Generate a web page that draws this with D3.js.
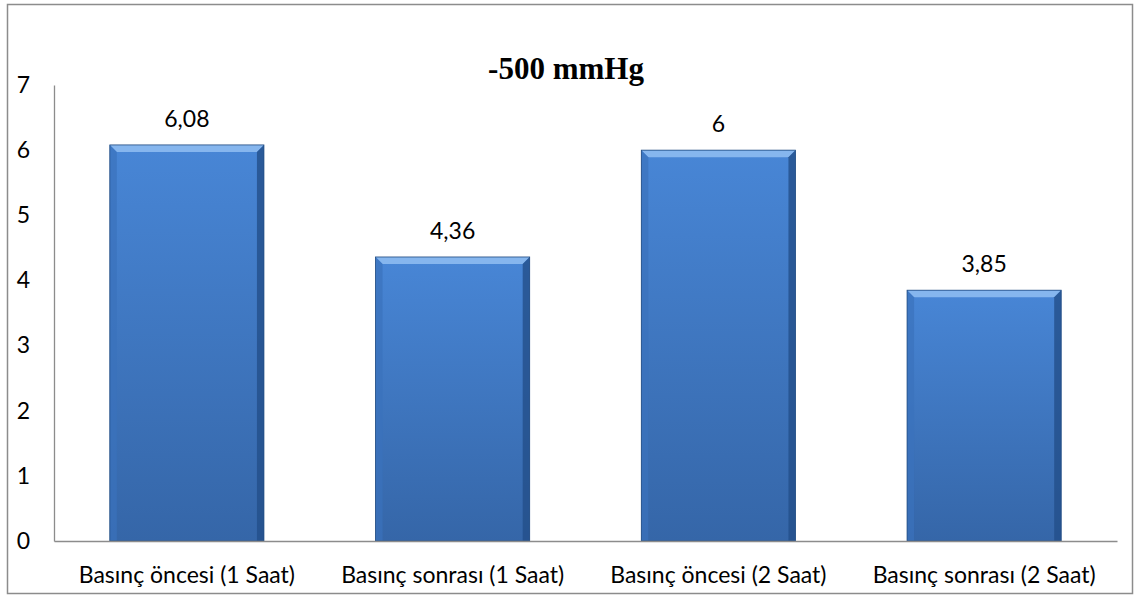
<!DOCTYPE html>
<html>
<head>
<meta charset="utf-8">
<script src="https://cdn.jsdelivr.net/npm/d3@7"></script>
<style>
  body { margin: 0; background: #fff; }
  svg { display: block; }
</style>
</head>
<body>
<svg id="chart" width="1140" height="597"></svg>
<script>
const categories = [
  'Basınç öncesi (1 Saat)',
  'Basınç sonrası (1 Saat)',
  'Basınç öncesi (2 Saat)',
  'Basınç sonrası (2 Saat)'
];
const values = [6.08, 4.36, 6, 3.85];
const valueLabels = ['6,08', '4,36', '6', '3,85'];
const yTicks = [0, 1, 2, 3, 4, 5, 6, 7];
const title = '-500 mmHg';

const svg = d3.select('#chart'),
  width = 1140,
  height = 597,
  margin = { top: 85, right: 23, bottom: 56, left: 54 },
  labelFont = 'Lato, "Open Sans", sans-serif',
  labelSize = '23px';

// outer frame
svg.append('rect')
  .attr('x', 7.5).attr('y', 4.5)
  .attr('width', 1125).attr('height', 589)
  .attr('fill', '#fff')
  .attr('stroke', '#8c8c8c')
  .attr('stroke-width', 1.5);

const x = d3.scaleBand()
  .domain(categories)
  .range([margin.left, width - margin.right])
  .paddingInner(0.42)
  .paddingOuter(0.21);

const y = d3.scaleLinear()
  .domain([0, 7])
  .range([height - margin.bottom, margin.top]);

// gradients
const defs = svg.append('defs');
const grad = defs.append('linearGradient')
  .attr('id', 'barFill').attr('x1', 0).attr('y1', 0).attr('x2', 0).attr('y2', 1);
grad.append('stop').attr('offset', '0%').attr('stop-color', '#4886d6');
grad.append('stop').attr('offset', '100%').attr('stop-color', '#3566a8');

const bev = 7;
const bars = svg.append('g').selectAll('g')
  .data(values)
  .join('g')
  .attr('transform', (d, i) => `translate(${x(categories[i])},${y(d)})`);

bars.each(function(d) {
  const g = d3.select(this),
    w = x.bandwidth(),
    h = y(0) - y(d);
  g.append('rect').attr('width', w).attr('height', h).attr('fill', 'url(#barFill)');
  // bevel edges
  g.append('polygon')
    .attr('points', `0,0 ${w},0 ${w - bev},${bev} ${bev},${bev}`)
    .attr('fill', '#86b6ee');
  g.append('polygon')
    .attr('points', `0,0 ${bev},${bev} ${bev},${h} 0,${h}`)
    .attr('fill', '#3b72bc').attr('opacity', 0.7);
  g.append('polygon')
    .attr('points', `${w},0 ${w - bev},${bev} ${w - bev},${h} ${w},${h}`)
    .attr('fill', '#234f8a').attr('opacity', 0.8);
  g.append('rect').attr('width', w).attr('height', h)
    .attr('fill', 'none').attr('stroke', '#1f4a80').attr('stroke-width', 0.8);
});

// value labels
svg.append('g').selectAll('text')
  .data(values)
  .join('text')
  .attr('x', (d, i) => x(categories[i]) + x.bandwidth() / 2)
  .attr('y', d => y(d) - 18)
  .attr('text-anchor', 'middle')
  .style('font-family', labelFont)
  .style('font-size', labelSize)
  .attr('fill', '#000')
  .text((d, i) => valueLabels[i]);

// axes
const yAxis = svg.append('g')
  .attr('transform', `translate(${margin.left},0)`)
  .call(d3.axisLeft(y).tickValues(yTicks).tickFormat(d3.format('d')).tickSize(0).tickPadding(24));
yAxis.select('.domain').attr('stroke', '#8c8c8c').attr('stroke-width', 1.3);
yAxis.selectAll('text')
  .style('font-family', labelFont)
  .style('font-size', labelSize)
  .attr('fill', '#000');

const xAxis = svg.append('g')
  .attr('transform', `translate(0,${y(0)})`)
  .call(d3.axisBottom(x).tickSize(0).tickPadding(26));
xAxis.select('.domain').attr('stroke', '#8c8c8c').attr('stroke-width', 1.3);
xAxis.selectAll('text')
  .style('font-family', labelFont)
  .style('font-size', labelSize)
  .attr('fill', '#000');

// title
svg.append('text')
  .attr('x', 566)
  .attr('y', 79)
  .attr('text-anchor', 'middle')
  .style('font-family', '"Liberation Serif", "Times New Roman", serif')
  .style('font-weight', 'bold')
  .style('font-size', '31px')
  .text(title);
</script>
</body>
</html>
